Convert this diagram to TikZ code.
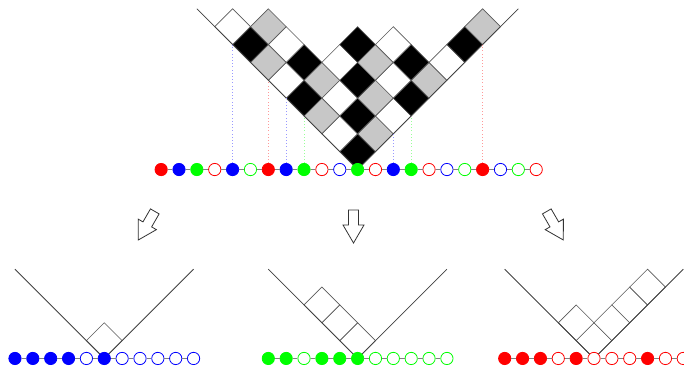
\documentclass[tikz,border=0pt]{standalone}
\begin{document}
\begin{tikzpicture}[x=0.75pt,y=0.75pt,
  dot/.style={circle, line width=0.6pt, inner sep=0pt, minimum size=9.2pt},
  base/.style={draw=gray, line width=0.6pt},
  arm/.style={draw=black!75, line width=0.6pt},
  cellbox/.style={draw=black!65, line width=0.5pt},
  guide/.style={dotted, line width=0.4pt},
  blockarrow/.style={draw=black!80, line width=0.6pt, fill=white, line join=miter}]
\useasboundingbox (0,0) rectangle (684,371);

% ---------------- top diagram ----------------
\begin{scope}[xshift=268.2pt, yshift=151.1pt, x=13.395pt, y=13.395pt]
  \foreach \i/\len in {1/8,2/5,3/5,4/4,5/2,6/2,7/2,8/1}{
    \foreach \j in {1,...,\len}{
      \pgfmathtruncatemacro\cx{\j-\i}
      \pgfmathtruncatemacro\cy{\i+\j-1}
      \pgfmathtruncatemacro\m{mod(\j-\i+30,3)}
      \ifcase\m \def\cc{black}\or \def\cc{black!22}\or \def\cc{white}\fi
      \filldraw[cellbox, fill=\cc] (\cx,\cy-1) -- (\cx+1,\cy) -- (\cx,\cy+1) -- (\cx-1,\cy) -- cycle;
    }
  }
  \coordinate (TL) at (-9,9);
  \coordinate (TV) at (0,0);
  \coordinate (TR) at (9,9);
  \draw[arm] (TL) -- (TV) -- (TR);
  \foreach \n/\k/\cc/\fc in {1/-11/red/red, 2/-10/blue/blue, 3/-9/green/green,
      4/-8/red/white, 5/-7/blue/blue, 6/-6/green/white, 7/-5/red/red,
      8/-4/blue/blue, 9/-3/green/green, 10/-2/red/white, 11/-1/blue/white,
      12/0/green/green, 13/1/red/white, 14/2/blue/blue, 15/3/green/green,
      16/4/red/white, 17/5/blue/white, 18/6/green/white, 19/7/red/red,
      20/8/blue/white, 21/9/green/white, 22/10/red/white}{
    \node[dot, draw=\cc, fill=\fc] (t\n) at (\k,0) {};
  }
  \foreach \a [count=\b from 2] in {1,...,21}{\draw[base] (t\a) -- (t\b);}
  \foreach \n/\k/\cc in {5/-7/blue, 7/-5/red, 8/-4/blue, 9/-3/green,
      14/2/blue, 15/3/green, 19/7/red}{
    \coordinate (g\n) at (\k,{abs(\k)});
    \draw[guide, draw=\cc!40] (t\n) -- (g\n);
  }
\end{scope}

% ---------------- arrows ----------------
\draw[blockarrow, shift={(154.8,159.6)}, rotate=-30]
  (-5,0) -- (5,0) -- (5,-15) -- (10.5,-15) -- (0,-33) -- (-10.5,-15) -- (-5,-15) -- cycle;
\draw[blockarrow, shift={(353.5,161)}]
  (-5,0) -- (5,0) -- (5,-15) -- (10.5,-15) -- (0,-33) -- (-10.5,-15) -- (-5,-15) -- cycle;
\draw[blockarrow, shift={(546.8,159.6)}, rotate=30]
  (-5,0) -- (5,0) -- (5,-15) -- (10.5,-15) -- (0,-33) -- (-10.5,-15) -- (-5,-15) -- cycle;

% ---------------- bottom left (blue) ----------------
\begin{scope}[xshift=78.2pt, yshift=9.4pt, x=13.395pt, y=13.395pt]
  \foreach \cx/\cy in {0/1}{
    \filldraw[cellbox, fill=white] (\cx,\cy-1) -- (\cx+1,\cy) -- (\cx,\cy+1) -- (\cx-1,\cy) -- cycle;
  }
  \coordinate (BLl) at (-5,5);
  \coordinate (BLv) at (0,0);
  \coordinate (BLr) at (5,5);
  \draw[arm] (BLl) -- (BLv) -- (BLr);
  \foreach \n/\fc in {1/blue,2/blue,3/blue,4/blue,5/white,6/blue,7/white,8/white,9/white,10/white,11/white}{
    \node[dot, draw=blue, fill=\fc] (b\n) at (\n-6,0) {};
  }
  \foreach \a [count=\b from 2] in {1,...,10}{\draw[base] (b\a) -- (b\b);}
\end{scope}

% ---------------- bottom middle (green) ----------------
\begin{scope}[xshift=268.2pt, yshift=9.4pt, x=13.395pt, y=13.395pt]
  \foreach \cx/\cy in {0/1,-1/2,-2/3}{
    \filldraw[cellbox, fill=white] (\cx,\cy-1) -- (\cx+1,\cy) -- (\cx,\cy+1) -- (\cx-1,\cy) -- cycle;
  }
  \coordinate (BMl) at (-5,5);
  \coordinate (BMv) at (0,0);
  \coordinate (BMr) at (5,5);
  \draw[arm] (BMl) -- (BMv) -- (BMr);
  \foreach \n/\fc in {1/green,2/green,3/white,4/green,5/green,6/green,7/white,8/white,9/white,10/white,11/white}{
    \node[dot, draw=green, fill=\fc] (m\n) at (\n-6,0) {};
  }
  \foreach \a [count=\b from 2] in {1,...,10}{\draw[base] (m\a) -- (m\b);}
\end{scope}

% ---------------- bottom right (red) ----------------
\begin{scope}[xshift=445.5pt, yshift=9.4pt, x=13.395pt, y=13.395pt]
  \foreach \cx/\cy in {0/1,-1/2,1/2,2/3,3/4}{
    \filldraw[cellbox, fill=white] (\cx,\cy-1) -- (\cx+1,\cy) -- (\cx,\cy+1) -- (\cx-1,\cy) -- cycle;
  }
  \coordinate (BRl) at (-5,5);
  \coordinate (BRv) at (0,0);
  \coordinate (BRr) at (5,5);
  \draw[arm] (BRl) -- (BRv) -- (BRr);
  \foreach \n/\fc in {1/red,2/red,3/red,4/white,5/red,6/white,7/white,8/white,9/red,10/white,11/white}{
    \node[dot, draw=red, fill=\fc] (r\n) at (\n-6,0) {};
  }
  \foreach \a [count=\b from 2] in {1,...,10}{\draw[base] (r\a) -- (r\b);}
\end{scope}
\end{tikzpicture}
\end{document}
